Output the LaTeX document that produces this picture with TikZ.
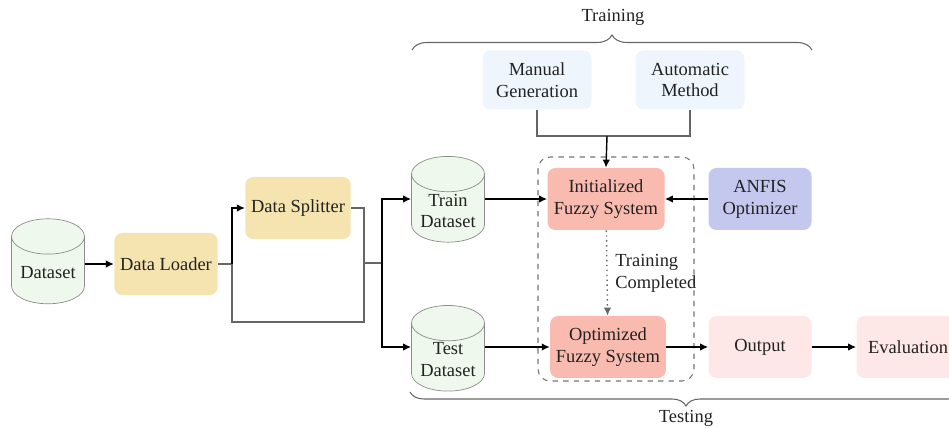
\documentclass[tikz,border=0pt]{standalone}
\usepackage{fontspec}
\setmainfont{Liberation Serif}
\usetikzlibrary{shapes.geometric, arrows.meta, positioning, decorations.pathreplacing}
\definecolor{LoaderTan}{HTML}{F5E3B0}
\definecolor{FuzzySalmon}{HTML}{F9BBAF}
\definecolor{AnfisLilac}{HTML}{C4C8EF}
\definecolor{OutPink}{HTML}{FDE7E7}
\definecolor{GenBlue}{HTML}{EEF5FC}
\definecolor{DataGreen}{HTML}{EFF8EC}
\definecolor{InkDark}{HTML}{222222}
\definecolor{LineGray}{HTML}{666666}

\tikzset{
    box/.style={rounded corners=1.6mm, minimum width=2.06cm, minimum height=1.24cm,
                align=center, text=InkDark, font=\fontsize{10.5}{12.5}\selectfont},
    dbase/.style={cylinder, shape border rotate=90, aspect=0.6, draw=black!45, fill=DataGreen,
                  minimum width=1.46cm, minimum height=1.7cm, align=center, inner sep=1pt,
                  text=InkDark, font=\fontsize{10.5}{12.5}\selectfont},
    flow/.style={-{Latex[length=1.6mm, width=1.5mm]}, line width=0.8pt, black},
    feed/.style={line width=0.8pt, LineGray},
    span/.style={decorate, decoration={brace, amplitude=3mm}, line width=0.6pt, black!60}
}

\begin{document}
\begin{tikzpicture}[x=0.2mm, y=-0.2mm]
    \useasboundingbox (0,0) rectangle (949,428);

    % Input side
    \node[dbase] (dataset) at (48,273) {Dataset};
    \node[box, fill=LoaderTan] (loader) at (166,264) {Data Loader};
    \node[box, fill=LoaderTan] (splitter) at (298,208) {Data Splitter};

    % Split datasets
    \node[dbase] (train) at (448,211) {Train\\Dataset};
    \node[dbase] (test) at (448,360) {Test\\Dataset};

    % Rule generation
    \node[box, fill=GenBlue, minimum width=2.18cm, minimum height=1.18cm] (manual) at (537,80) {Manual\\Generation};
    \node[box, fill=GenBlue, minimum width=2.18cm, minimum height=1.18cm] (automatic) at (690,80) {Automatic\\Method};

    % Fuzzy systems
    \node[box, fill=FuzzySalmon, minimum width=2.34cm] (initfuzzy) at (606,199) {Initialized\\Fuzzy System};
    \node[box, fill=FuzzySalmon, minimum width=2.22cm] (optfuzzy) at (608,347) {Optimized\\Fuzzy System};
    \node[box, fill=AnfisLilac] (anfis) at (760,199) {ANFIS\\Optimizer};
    \node[box, fill=OutPink] (output) at (760,347) {Output};
    \node[box, fill=OutPink] (evaluation) at (908,347) {Evaluation};

    % Dashed frame round the fuzzy systems
    \draw[dashed, black!55, line width=0.6pt, rounded corners=2.4mm] (538,157) rectangle (694,381);

    % Junction points
    \coordinate (jload) at (232,264);
    \coordinate (jloop) at (364,322);
    \coordinate (jmid) at (364,263);
    \coordinate (jsplit) at (382,263);
    \coordinate (jgen) at (607,136);

    % Connectors
    \draw[flow] (dataset.east |- loader.west) -- (loader.west);
    \draw[feed] (loader.east) -- (jload);
    \draw[flow] (jload) |- (splitter.west);
    \draw[feed] (splitter.east) -| (jloop) -| (jload);
    \draw[feed] (jmid) -- (jsplit);
    \draw[flow] (jsplit) |- (train.west |- initfuzzy.west);
    \draw[flow] (jsplit) |- (test.west |- optfuzzy.west);
    \draw[flow] (train.east |- initfuzzy.west) -- (initfuzzy.west);
    \draw[flow] (test.east |- optfuzzy.west) -- (optfuzzy.west);
    \draw[feed] (manual.south) |- (jgen) -| (automatic.south);
    \draw[flow] (jgen) -- (initfuzzy.north);
    \draw[flow] (anfis) -- (initfuzzy);
    \draw[-{Latex[length=1.6mm, width=1.5mm]}, dotted, line width=0.8pt, black!60] (initfuzzy) -- (optfuzzy)
        node[midway, anchor=west, xshift=1pt, align=left, text=InkDark,
             font=\fontsize{10.5}{12.5}\selectfont] (donelbl) {Training\\Completed};
    \draw[flow] (optfuzzy) -- (output);
    \draw[flow] (output) -- (evaluation);

    % Braces
    \draw[span] (412,50) -- (812,50);
    \node[text=InkDark, font=\fontsize{10.5}{12.5}\selectfont] (trainlbl) at (613,17) {Training};
    \draw[span, decoration={amplitude=2.8mm}] (962,392) -- (410,392);
    \node[text=InkDark, font=\fontsize{10.5}{12.5}\selectfont] (testlbl) at (686,418) {Testing};
\end{tikzpicture}
\end{document}
